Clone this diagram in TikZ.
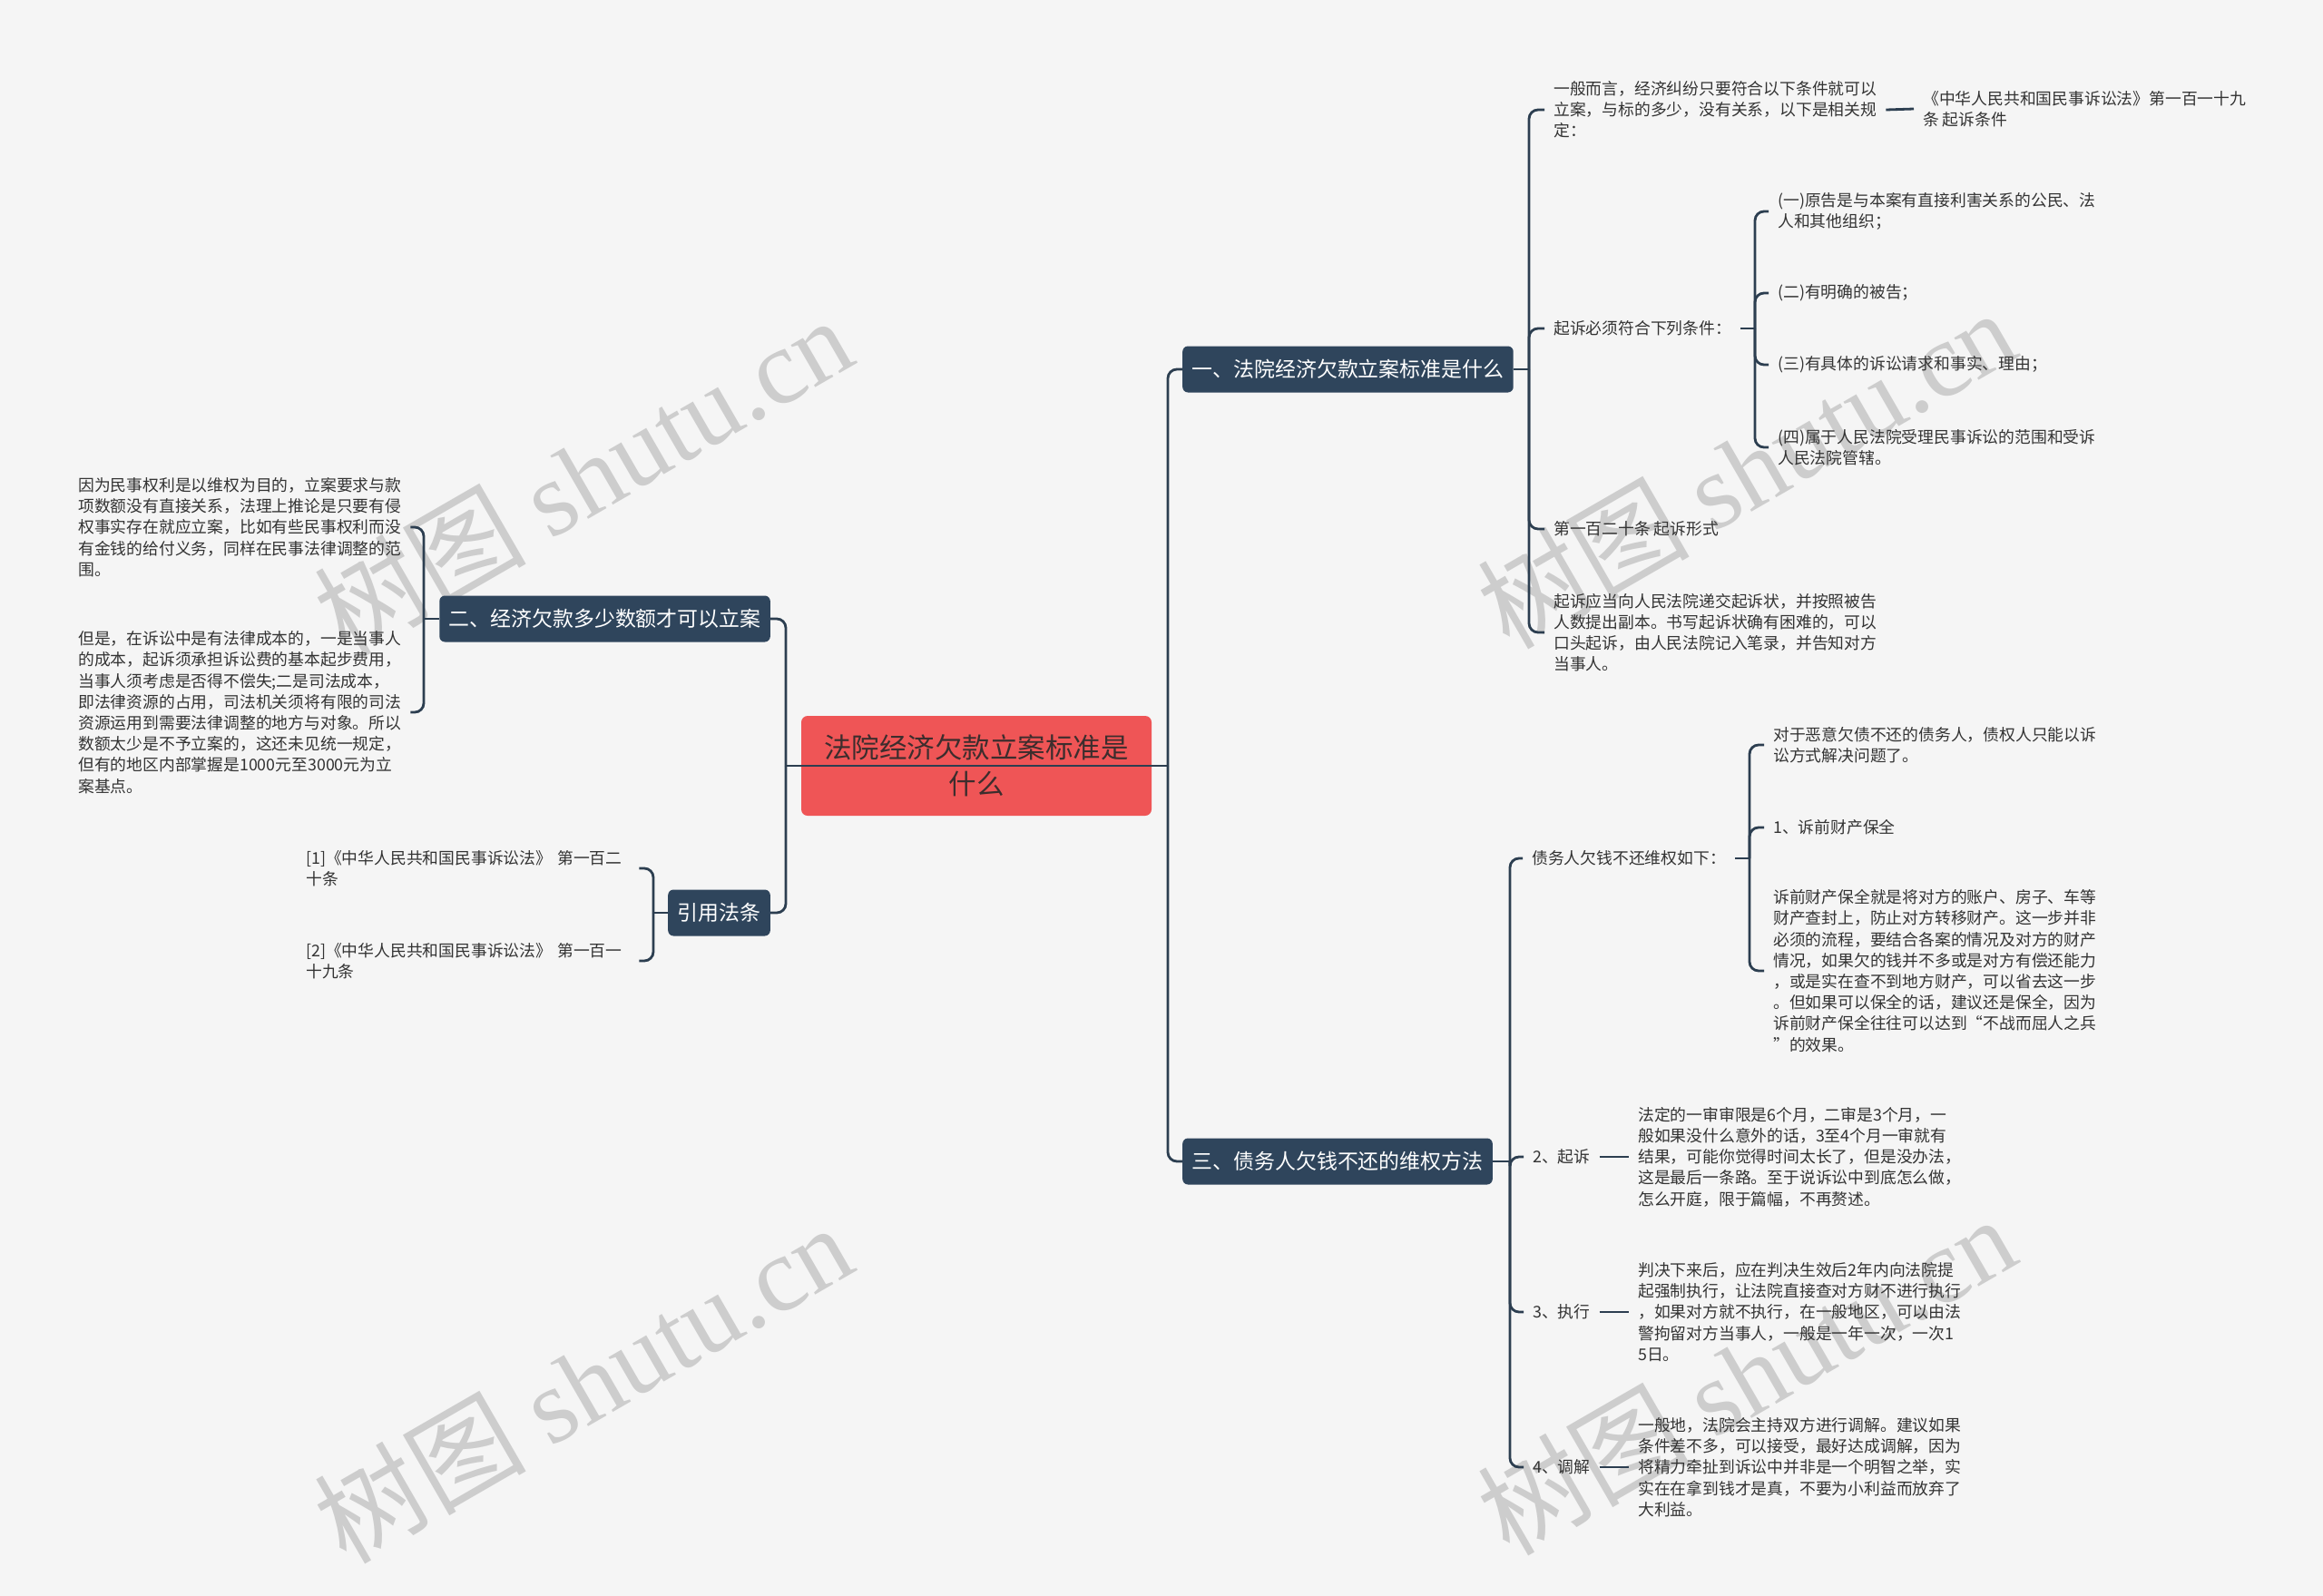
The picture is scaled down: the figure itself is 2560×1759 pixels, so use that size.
\documentclass[tikz,border=0pt]{standalone}
\usepackage{fontspec}
\setmainfont{Noto Sans CJK SC}
\newfontfamily\wmserif{Liberation Serif}
\usetikzlibrary{calc}
\definecolor{bgc}{HTML}{F5F5F5}
\definecolor{navy}{HTML}{2F455C}
\definecolor{linec}{HTML}{2C3E50}
\definecolor{rootc}{HTML}{EF5556}
\definecolor{roottext}{HTML}{3C2D2D}
\definecolor{leaftext}{HTML}{333333}
\definecolor{wmc}{HTML}{CDCDCD}
\begin{document}
\begin{tikzpicture}[x=1pt,y=-1pt,
  conn/.style={draw=linec,line width=2.8pt,rounded corners=10pt},
  rootbox/.style={fill=rootc,rounded corners=7pt,text=roottext,align=center,
    font=\fontsize{30.5}{40}\selectfont,minimum width=386pt,minimum height=110pt,inner sep=0pt},
  branch/.style={fill=navy,rounded corners=6pt,text=white,
    font=\fontsize{22.9}{28}\selectfont,inner xsep=10.5pt,inner ysep=0pt,minimum height=51pt},
  leaf/.style={text=leaftext,font=\fontsize{17.8}{23.2}\selectfont,align=left,inner xsep=10pt,inner ysep=2pt},
  wm/.style={text=wmc,rotate=30,font=\fontsize{117}{117}\selectfont,inner sep=0pt}
]
\useasboundingbox (0,0) rectangle (2560,1759);
\fill[bgc] (0,0) rectangle (2560,1759);

% watermarks
\node[wm] (wm1) at (642,524) {树图 {\wmserif shutu.cn}};
\node[wm] (wm2) at (1924,516) {树图 {\wmserif shutu.cn}};
\node[wm] (wm3) at (642,1524) {树图 {\wmserif shutu.cn}};
\node[wm] (wm4) at (1924,1515) {树图 {\wmserif shutu.cn}};

% spine coordinates
\coordinate (sR) at (1287,0);
\coordinate (sL) at (866,0);
\coordinate (s1) at (1685,0);
\coordinate (s1b) at (1934,0);
\coordinate (s3) at (1664,0);
\coordinate (s3a) at (1928,0);
\coordinate (sL2) at (467,0);
\coordinate (sL3) at (720,0);

% root and branches
\node[rootbox] (root) at (1076,844) {法院经济欠款立案标准是\\什么};
\node[branch,anchor=west] (b1) at (1303,407) {一、法院经济欠款立案标准是什么};
\node[branch,anchor=west] (b3) at (1303,1280) {三、债务人欠钱不还的维权方法};
\node[branch,anchor=east] (b2) at (849,682) {二、经济欠款多少数额才可以立案};
\node[branch,anchor=east] (b4) at (849,1006) {引用法条};

% branch 1 leaves
\node[leaf,anchor=west] (r1a) at (1702,121) {一般而言，经济纠纷只要符合以下条件就可以\\立案，与标的多少，没有关系，以下是相关规\\定：};
\node[leaf,anchor=west] (r1a1) at (2109,120) {《中华人民共和国民事诉讼法》第一百一十九\\条 起诉条件};
\node[leaf,anchor=west] (r1b) at (1702,362) {起诉必须符合下列条件：};
\node[leaf,anchor=west] (r1b1) at (1949,233) {(一)原告是与本案有直接利害关系的公民、法\\人和其他组织；};
\node[leaf,anchor=west] (r1b2) at (1949,323) {(二)有明确的被告；};
\node[leaf,anchor=west] (r1b3) at (1949,402) {(三)有具体的诉讼请求和事实、理由；};
\node[leaf,anchor=west] (r1b4) at (1949,493) {(四)属于人民法院受理民事诉讼的范围和受诉\\人民法院管辖。};
\node[leaf,anchor=west] (r1c) at (1702,583) {第一百二十条 起诉形式};
\node[leaf,anchor=west] (r1d) at (1702,697) {起诉应当向人民法院递交起诉状，并按照被告\\人数提出副本。书写起诉状确有困难的，可以\\口头起诉，由人民法院记入笔录，并告知对方\\当事人。};

% branch 3 leaves
\node[leaf,anchor=west] (r3a) at (1678,946) {债务人欠钱不还维权如下：};
\node[leaf,anchor=west] (r3a1) at (1944,821) {对于恶意欠债不还的债务人，债权人只能以诉\\讼方式解决问题了。};
\node[leaf,anchor=west] (r3a2) at (1944,912) {1、诉前财产保全};
\node[leaf,anchor=west] (r3a3) at (1944,1070) {诉前财产保全就是将对方的账户、房子、车等\\财产查封上，防止对方转移财产。这一步并非\\必须的流程，要结合各案的情况及对方的财产\\情况，如果欠的钱并不多或是对方有偿还能力\\，或是实在查不到地方财产，可以省去这一步\\。但如果可以保全的话，建议还是保全，因为\\诉前财产保全往往可以达到“不战而屈人之兵\\”的效果。};
\node[leaf,anchor=west] (r3b) at (1679,1275) {2、起诉};
\node[leaf,anchor=west] (r3b1) at (1795,1275) {法定的一审审限是6个月，二审是3个月，一\\般如果没什么意外的话，3至4个月一审就有\\结果，可能你觉得时间太长了，但是没办法，\\这是最后一条路。至于说诉讼中到底怎么做，\\怎么开庭，限于篇幅，不再赘述。};
\node[leaf,anchor=west] (r3c) at (1679,1446) {3、执行};
\node[leaf,anchor=west] (r3c1) at (1795,1446) {判决下来后，应在判决生效后2年内向法院提\\起强制执行，让法院直接查对方财不进行执行\\，如果对方就不执行，在一般地区，可以由法\\警拘留对方当事人，一般是一年一次，一次1\\5日。};
\node[leaf,anchor=west] (r3d) at (1679,1617) {4、调解};
\node[leaf,anchor=west] (r3d1) at (1795,1617) {一般地，法院会主持双方进行调解。建议如果\\条件差不多，可以接受，最好达成调解，因为\\将精力牵扯到诉讼中并非是一个明智之举，实\\实在在拿到钱才是真，不要为小利益而放弃了\\大利益。};

% branch 2 leaves
\node[leaf,anchor=west,text width=356pt] (l2a) at (76,581) {因为民事权利是以维权为目的，立案要求与款\\项数额没有直接关系，法理上推论是只要有侵\\权事实存在就应立案，比如有些民事权利而没\\有金钱的给付义务，同样在民事法律调整的范\\围。};
\node[leaf,anchor=west,text width=356pt] (l2b) at (76,785) {但是，在诉讼中是有法律成本的，一是当事人\\的成本，起诉须承担诉讼费的基本起步费用，\\当事人须考虑是否得不偿失;二是司法成本，\\即法律资源的占用，司法机关须将有限的司法\\资源运用到需要法律调整的地方与对象。所以\\数额太少是不予立案的，这还未见统一规定，\\但有的地区内部掌握是1000元至3000元为立\\案基点。};

% branch 4 leaves
\node[leaf,anchor=west,text width=357pt] (l3a) at (327,957) {\mbox{[1]《中华人民共和国民事诉讼法》 第一百二}\\十条};
\node[leaf,anchor=west,text width=357pt] (l3b) at (327,1059) {\mbox{[2]《中华人民共和国民事诉讼法》 第一百一}\\十九条};

% root connectors
\draw[conn] (sL |- root.center) -- (sR |- root.center);
\draw[conn] (sR |- root.center) |- (b1.west);
\draw[conn] (sR |- root.center) |- (b3.west);
\draw[conn] (sL |- root.center) |- (b2.east);
\draw[conn] (sL |- root.center) |- (b4.east);

% branch 1 connectors
\draw[conn] (b1.east) -- (s1 |- b1.east);
\foreach \c in {r1a,r1b,r1c,r1d} \draw[conn] (s1 |- b1.east) |- (\c.west);
\draw[conn] (r1a.east) -- (r1a1.west);
\draw[conn] (r1b.east) -- (s1b |- r1b.east);
\foreach \c in {r1b1,r1b2,r1b3,r1b4} \draw[conn] (s1b |- r1b.east) |- (\c.west);

% branch 3 connectors
\draw[conn] (b3.east) -- (s3 |- b3.east);
\foreach \c in {r3a,r3b,r3c,r3d} \draw[conn] (s3 |- b3.east) |- (\c.west);
\draw[conn] (r3a.east) -- (s3a |- r3a.east);
\foreach \c in {r3a1,r3a2,r3a3} \draw[conn] (s3a |- r3a.east) |- (\c.west);
\draw[conn] (r3b.east) -- (r3b1.west);
\draw[conn] (r3c.east) -- (r3c1.west);
\draw[conn] (r3d.east) -- (r3d1.west);

% branch 2 connectors
\draw[conn] (b2.west) -- (sL2 |- b2.west);
\foreach \c in {l2a,l2b} \draw[conn] (sL2 |- b2.west) |- (\c.east);

% branch 4 connectors
\draw[conn] (b4.west) -- (sL3 |- b4.west);
\foreach \c in {l3a,l3b} \draw[conn] (sL3 |- b4.west) |- (\c.east);
\end{tikzpicture}
\end{document}
